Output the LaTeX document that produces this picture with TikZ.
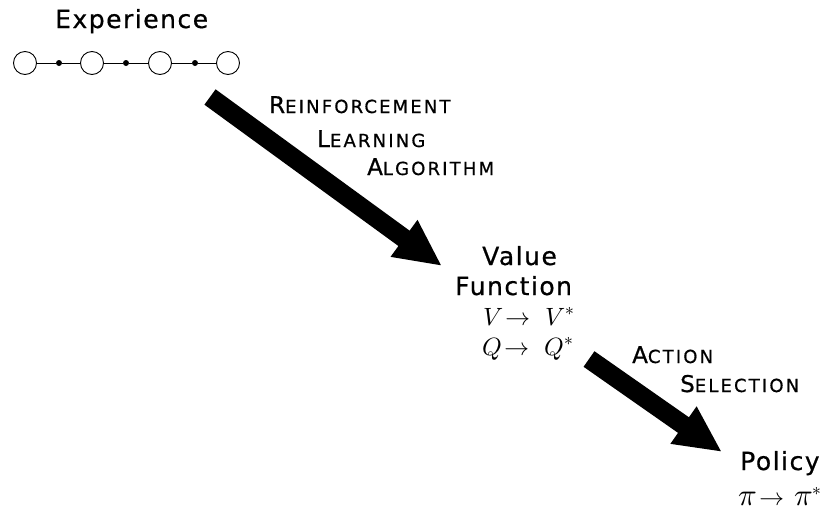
\documentclass[tikz,border=0pt]{standalone}
\usepackage{fontspec}
\usepackage{unicode-math}
\setmainfont{DejaVu Sans}[LetterSpace=6,FakeBold=0.6]
\newfontfamily\scfont{DejaVu Sans}[LetterSpace=12,FakeBold=0.7]
\setmathfont{Latin Modern Math}
\usetikzlibrary{arrows.meta}
\newcommand\mysc[2]{{\scfont\fontsize{23}{23}\selectfont #1}{\scfont\fontsize{18}{18}\selectfont #2}}
\newcommand\bigpi{\mbox{\fontsize{31}{31}\selectfont$\pi$}}
\tikzset{
  lbl/.style={inner sep=0pt, anchor=base west, font=\fontsize{25}{25}\selectfont},
  sclbl/.style={inner sep=0pt, anchor=base west},
  mth/.style={inner sep=0pt, anchor=base west, font=\fontsize{25}{25}\selectfont},
  state/.style={circle, draw, line width=0.9pt, minimum size=23pt, inner sep=0pt},
  act/.style={circle, fill, minimum size=6pt, inner sep=0pt},
  link/.style={line width=0.9pt},
  bigarrow/.style={line width=19pt, -{Triangle[length=47pt,width=42pt]}}
}
\begin{document}
\begin{tikzpicture}[x=1pt,y=-1pt]
\useasboundingbox (0,0) rectangle (825,512);
% Experience
\node[lbl] (exp) at (55,28) {Experience};
\node[state] (c1) at (25,63) {};
\node[act]   (d1) at (59,63) {};
\node[state] (c2) at (92,63) {};
\node[act]   (d2) at (126,63) {};
\node[state] (c3) at (160,63) {};
\node[act]   (d3) at (195,63) {};
\node[state] (c4) at (228,63) {};
\draw[link] (c1) -- (d1) -- (c2) -- (d2) -- (c3) -- (d3) -- (c4);
% arrow 1
\coordinate (a1s) at (210,97);
\coordinate (a1e) at (442,266);
\draw[bigarrow] (a1s) -- (a1e);
\node[sclbl] (rl1) at (269,113) {\mysc{R}{EINFORCEMENT}};
\node[sclbl] (rl2) at (317,147) {\mysc{L}{EARNING}};
\node[sclbl] (rl3) at (367,175) {\mysc{A}{LGORITHM}};
% Value function
\node[lbl] (vf1) at (482,265) {Value};
\node[lbl] (vf2) at (455,295) {Function};
\node[mth] (v) at (483,325) {$V\!\rightarrow\hspace{8pt}V^{*}$};
\node[mth] (q) at (482,355) {$Q\!\rightarrow\hspace{8pt}Q^{*}$};
% arrow 2
\coordinate (a2s) at (589,359);
\coordinate (a2e) at (722,452);
\draw[bigarrow] (a2s) -- (a2e);
\node[sclbl] (as1) at (632,363) {\mysc{A}{CTION}};
\node[sclbl] (as2) at (680,392) {\mysc{S}{ELECTION}};
% Policy
\node[lbl] (pol) at (740,470) {Policy};
\node[mth] (pi) at (738,505) {$\bigpi\!\rightarrow\hspace{3pt}\bigpi^{*}$};
\end{tikzpicture}
\end{document}
